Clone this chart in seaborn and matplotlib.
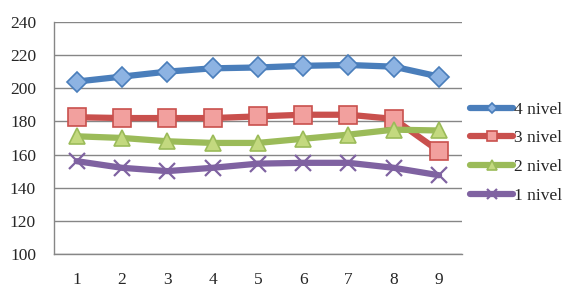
"""Line chart of four levels across nine points."""
import matplotlib
matplotlib.use("Agg")
import matplotlib.pyplot as plt
import numpy as np
import pandas as pd
import seaborn as sns

x_vals = [1, 2, 3, 4, 5, 6, 7, 8, 9]
nivel_4 = [204, 207, 210, 212, 212.5, 213.5, 214, 213, 207]
nivel_3 = [182.5, 182, 182, 182, 183, 184, 184, 181.5, 162]
nivel_2 = [171, 170, 168, 167, 167, 169.5, 172, 175, 174.5]
nivel_1 = [156, 152, 150, 152, 154.5, 155, 155, 152, 147.5]
series_names = ["4 nivel", "3 nivel", "2 nivel", "1 nivel"]

COLORS = {"4 nivel": "#4A7EBB", "3 nivel": "#C9504D", "2 nivel": "#9BBB59", "1 nivel": "#7F62A1"}
FACES = {"4 nivel": "#8DB3E2", "3 nivel": "#F2A09E", "2 nivel": "#C3D97F", "1 nivel": "#7F62A1"}
MARKERS = {"4 nivel": "D", "3 nivel": "s", "2 nivel": "^", "1 nivel": "x"}
SIZES = {"4 nivel": 10, "3 nivel": 13, "2 nivel": 12, "1 nivel": 12}


def main() -> None:
    sns.set_style("white")
    plt.rcParams["font.family"] = ["Liberation Serif", "DejaVu Serif"]

    df = pd.DataFrame(
        {"x": x_vals * 4,
         "value": nivel_4 + nivel_3 + nivel_2 + nivel_1,
         "series": np.repeat(series_names, len(x_vals))}
    )

    fig = plt.figure(figsize=(5.71, 2.88), dpi=100)
    ax = fig.add_axes([0.0946, 0.118, 0.714, 0.806])

    for name in series_names:
        sub = df[df["series"] == name]
        sns.lineplot(
            data=sub, x="x", y="value", ax=ax, color=COLORS[name], linewidth=4.5,
            marker=MARKERS[name], markersize=SIZES[name],
            markerfacecolor=FACES[name], markeredgecolor=COLORS[name],
            markeredgewidth=1.2 if name != "1 nivel" else 1.6,
            label=name, zorder=3,
        )

    ax.set_xlim(0.5, 9.5)
    ax.set_ylim(100, 240)
    ax.set_yticks(range(100, 241, 20))
    ax.set_xticks(x_vals)
    ax.set_xticks(np.arange(0.5, 9.6, 1.0), minor=True)
    ax.tick_params(axis="x", which="major", length=0, pad=13, labelsize=12.5)
    ax.tick_params(axis="x", which="minor", length=4, color="#868686", direction="out")
    ax.tick_params(axis="y", length=4, color="#868686", direction="out", labelsize=12.5, pad=9)
    ax.set_xlabel("")
    ax.set_ylabel("")
    ax.grid(axis="y", color="#868686", linewidth=1.0)
    ax.set_axisbelow(True)
    for side in ["top", "right"]:
        ax.spines[side].set_visible(False)
    for side in ["left", "bottom"]:
        ax.spines[side].set_color("#868686")
        ax.spines[side].set_linewidth(1.0)

    handles, labels = ax.get_legend_handles_labels()
    ax.legend(
        handles, labels, loc="center left", bbox_to_anchor=(470 / 571, 0.47),
        bbox_transform=fig.transFigure, borderpad=0, borderaxespad=0,
        frameon=False, fontsize=12.5, handlelength=2.5, handletextpad=0.05,
        labelspacing=0.72, markerscale=0.55,
    )

    plt.savefig("out.png", dpi=100)
    plt.close()


if __name__ == "__main__":
    main()
